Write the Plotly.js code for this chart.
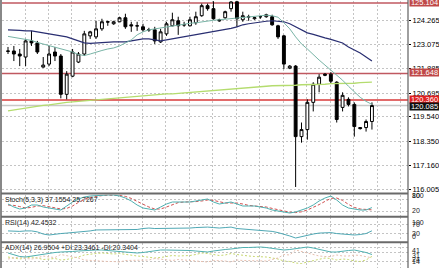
<!DOCTYPE html>
<html><head><meta charset="utf-8">
<script src="https://cdn.plot.ly/plotly-3.0.1.min.js"></script>
<style>html,body{margin:0;padding:0;background:#fff;overflow:hidden}#chart{width:439px;height:268px}</style>
</head><body><div id="chart"></div>
<script>
// ---------- data ----------
const open  = [122.754,122.754,122.606,122.458,123.246,123.148,121.966,122.113,122.704,122.507,
               120.635,121.522,122.212,122.606,123.493,123.443,123.837,124.182,124.084,124.182,
               124.379,124.034,123.985,123.936,123.788,123.788,123.197,123.591,123.985,124.231,
               124.034,123.985,124.133,124.478,124.970,124.823,124.281,124.379,124.823,125.160,
               124.281,124.429,124.330,124.430,124.429,124.429,123.985,123.493,121.916,122.015,
               118.567,118.911,120.241,121.128,121.621,121.621,121.227,119.995,120.389,120.143,
               119.010,119.010,119.306];
const high  = [122.951,123.000,122.852,123.345,123.739,123.246,122.458,123.000,122.951,122.606,
               121.769,122.852,122.704,123.739,123.739,124.231,124.330,124.231,124.231,124.429,
               124.576,124.182,124.182,124.084,123.887,123.936,123.837,124.182,124.626,124.429,
               124.182,124.429,124.675,125.069,125.069,125.190,124.330,124.724,125.190,125.215,
               124.675,124.527,124.429,124.478,124.576,124.527,124.034,123.542,122.064,122.064,
               119.256,120.389,121.227,121.621,121.670,121.719,121.276,120.734,120.488,120.241,
               119.030,119.404,120.241];
const low   = [122.606,122.261,122.015,122.015,123.000,122.606,121.940,122.015,122.261,120.438,
               120.389,121.473,122.163,122.507,123.345,123.345,123.739,123.985,124.034,124.160,
               123.837,123.690,123.739,123.690,123.690,123.098,123.148,123.493,123.960,123.542,
               123.936,123.960,124.034,124.429,124.724,124.281,124.182,124.330,124.675,123.936,
               124.182,124.231,124.281,124.330,124.379,123.985,123.345,121.867,121.867,116.104,
               118.271,118.419,119.798,120.734,121.522,121.177,119.256,119.798,120.044,118.567,
               118.911,118.813,118.911];
const close = [122.740,122.606,122.507,123.246,123.148,122.704,122.064,122.606,122.507,120.635,
               121.621,122.704,122.606,123.591,123.690,123.837,124.182,124.170,124.182,124.379,
               123.936,123.985,123.980,123.788,123.790,123.246,123.690,124.084,124.281,123.985,
               124.030,124.281,124.429,124.970,124.823,124.330,124.231,124.675,125.150,124.330,
               124.478,124.420,124.379,124.429,124.527,124.034,123.443,122.113,122.015,118.567,
               118.911,120.241,121.128,121.473,121.572,121.276,119.404,120.586,120.143,119.059,
               118.961,119.306,120.085];
const maSlow = [123.788,123.788,123.764,123.739,123.739,123.690,123.640,123.591,123.542,123.493,
                123.443,123.345,123.246,123.148,123.123,123.148,123.172,123.197,123.197,123.197,
                123.197,123.246,123.296,123.345,123.345,123.296,123.246,123.296,123.345,123.394,
                123.468,123.517,123.567,123.616,123.665,123.690,123.739,123.788,123.862,123.936,
                124.035,124.084,124.133,124.158,124.207,124.232,124.207,124.182,124.084,123.936,
                123.788,123.640,123.567,123.468,123.394,123.320,123.246,123.148,122.951,122.803,
                122.655,122.458,122.261];
const maFast = [123.468,123.419,123.370,123.320,123.271,123.172,123.099,123.000,122.951,122.852,
                122.803,122.705,122.581,122.532,122.606,122.705,122.778,122.852,122.902,123.000,
                123.148,123.296,123.542,123.690,123.788,123.838,123.887,123.936,123.985,124.035,
                124.059,124.108,124.133,124.182,124.232,124.256,124.281,124.305,124.330,124.379,
                124.404,124.429,124.453,124.478,124.503,124.478,124.404,124.133,123.838,123.443,
                123.099,122.852,122.557,122.310,122.064,121.818,121.572,121.325,121.030,120.783,
                120.488,120.291,120.143];
const maLong = [119.823,119.872,119.921,119.971,120.020,120.044,120.094,120.118,120.168,120.192,
                120.241,120.266,120.291,120.315,120.365,120.389,120.414,120.438,120.463,120.488,
                120.512,120.537,120.562,120.586,120.586,120.611,120.636,120.660,120.660,120.685,
                120.709,120.734,120.759,120.783,120.783,120.808,120.833,120.857,120.882,120.931,
                120.956,120.980,121.005,121.030,121.030,121.054,121.054,121.079,121.079,121.079,
                121.104,121.104,121.128,121.128,121.128,121.153,121.153,121.177,121.177,121.177,
                121.202,121.202,121.227];
const stochMain = [55,40,30,35,50,50,40,35,30,25, 45,65,80,90,95,97,100,100,100,95,
                   85,70,50,35,30,25,40,55,65,65, 65,65,70,75,80,65,55,60,65,55,
                   45,45,45,40,35,25,20,12,10,15, 25,35,50,70,85,95,75,50,35,30,
                   25,25,37.1554];
const stochSignal = [50,48,42,35,38,45,47,42,35,30, 33,45,63,78,88,94,97,99,100,98,
                     93,83,68,52,40,30,30,40,53,62, 65,65,67,70,75,73,67,60,60,60,
                     55,48,45,43,40,33,27,19,14,12, 16,25,37,52,68,83,85,73,53,38,
                     30,27,25.7267];
const rsi = [42,40,40,42,42,38,29,25,29,31, 33,35,38,38,42,46,46,46,46,46,
             46,46,48,52,54,52,52,52,54,54, 54,54,56,58,58,56,54,56,58,52,
             50,50,48,46,44,40,35,29,21,12.5, 19,25,29,33,35,35,31,29,27,25,
             27,31,42.4532];
const adx = [30,26,23,22,24,26,28,30,31,32, 32,33,34,35,36,36,36,35,34,33,
             32,31,30,31,33,35,36,36,36,36, 36,35,34,33,32,34,36,37,38,40,
             41,41,42,42,41,39,37,36,37,39, 41,42,40,37,34,32,32,34,35,36,
             34,31,26.9504];
const plusDI = [22,20,18,20,22,20,17,18,19,16, 17,20,22,26,28,29,30,29,28,29,
                27,25,24,23,22,20,21,23,25,24, 24,25,27,30,29,27,25,26,29,27,
                25,24,23,23,22,20,18,14,13,10, 9,12,15,18,20,19,16,18,17,14,
                13,16,23.3461];
const minusDI = [18,20,22,19,18,20,24,22,21,27, 25,22,20,16,15,14,13,13,13,12,
                 15,15,16,16,16,19,18,16,15,17, 16,15,14,12,12,15,15,14,12,16,
                 15,15,15,15,14,17,20,27,26,36, 33,30,27,24,23,23,26,24,24,26,
                 25,23,20.3404];
const priceTicks = [124.265,123.075,121.885,120.695,119.540,118.350,117.160,116.005];
const levelTop = 125.104, levelMid = 121.648, levelLow = 120.360, bidPrice = 120.085;
const stochLabels = [["100",195],["80",195],["20",210]];
const rsiLabels = [["100",222],["70",224],["30",233],["0",236.5]];
const adxLabels = [["41",250],["31",255],["24",259.5],["14",261.5]];

// ---------- geometry ----------
const W=439,H=268;
const fx=p=>p/W, fy=p=>1-p/H;
const C0=8.0, DX=5.87;
const PL=2, PR=408;
const xr=[(PL-C0)/DX,(PR-C0)/DX];
const SLOPE=20.45, ANCH_Y=189, ANCH_P=116.005;
const priceAt=y=>ANCH_P+(ANCH_Y-y)/SLOPE;
const idx=open.map((_,i)=>i);

const FONT='Liberation Sans, Arial, sans-serif';
const grid={showgrid:true,gridcolor:'#c4c4c4',griddash:'2px,2px',gridwidth:1};

const traces=[
 {type:'scatter',mode:'lines',x:idx,y:maLong,line:{color:'#b4dc6e',width:1.3},hoverinfo:'skip'},
 {type:'scatter',mode:'lines',x:idx,y:maSlow,line:{color:'#2a2f72',width:1.2},hoverinfo:'skip'},
 {type:'scatter',mode:'lines',x:idx,y:maFast,line:{color:'#78b4a6',width:1},hoverinfo:'skip'},
 {type:'candlestick',x:idx,open,high,low,close,whiskerwidth:0,hoverinfo:'skip',
  increasing:{line:{color:'#000',width:1},fillcolor:'#fff'},
  decreasing:{line:{color:'#000',width:1},fillcolor:'#000'}},
 {type:'scatter',mode:'lines',x:idx,y:stochSignal,yaxis:'y2',line:{color:'#d05050',width:1,dash:'3px,2px'},hoverinfo:'skip'},
 {type:'scatter',mode:'lines',x:idx,y:stochMain,yaxis:'y2',line:{color:'#4fb0b0',width:1},hoverinfo:'skip'},
 {type:'scatter',mode:'lines',x:idx,y:rsi,yaxis:'y3',line:{color:'#4fa8b4',width:1},hoverinfo:'skip'},
 {type:'scatter',mode:'lines',x:idx,y:plusDI,yaxis:'y4',line:{color:'#c8d870',width:1,dash:'2px,2px'},hoverinfo:'skip'},
 {type:'scatter',mode:'lines',x:idx,y:minusDI,yaxis:'y4',line:{color:'#e8c0b0',width:1,dash:'2px,2px'},hoverinfo:'skip'},
 {type:'scatter',mode:'lines',x:idx,y:adx,yaxis:'y4',line:{color:'#4fb0b0',width:1},hoverinfo:'skip'}
];

const hline=(y,color,w)=>({type:'line',xref:'x',yref:'y',x0:xr[0],x1:xr[1],y0:y,y1:y,layer:'between',line:{color,width:w}});
const pline=(x0,y0,x1,y1,color,w)=>({type:'line',xref:'paper',yref:'paper',x0:fx(x0),x1:fx(x1),y0:fy(y0),y1:fy(y1),line:{color,width:w}});
const shapes=[
 hline(levelTop,'#c05860',1.5),
 hline(levelMid,'#c05860',1.5),
 hline(levelLow,'#d83a3a',1.5),
 hline(bidPrice,'#c8c8c8',1.5),
 pline(1,0,1,268,'#606060',1.5),
 pline(PR,0,PR,268,'#606060',1.2),
 pline(1,193.5,PR,193.5,'#6a6a6a',2),
 pline(1,216.8,PR,216.8,'#6a6a6a',2),
 pline(1,242.2,PR,242.2,'#6a6a6a',2)
];

const box=(txt,y,bg)=>({xref:'paper',yref:'paper',x:fx(409),y:fy(y),xanchor:'left',yanchor:'middle',
  text:txt,showarrow:false,bgcolor:bg,borderpad:0,width:29,height:7,align:'center',
  font:{family:FONT,size:7.5,color:'#fff'}});
const lab=(txt,y,x)=>({xref:'paper',yref:'paper',x:fx(x),y:fy(y),xanchor:'left',yanchor:'middle',
  text:txt,showarrow:false,font:{family:FONT,size:7,color:'#222'}});
const annotations=[
 box('125.104',2,'#c04848'),
 box('121.648',73,'#c04848'),
 box('120.360',99.5,'#e02020'),
 box('120.085',106.5,'#101010'),
 lab('Stoch(5,3,3) 37.1554 25.7267',200,3),
 lab('RSI(14) 42.4532',223,3),
 lab('ADX(14) 26.9504 +DI:23.3461 -DI:20.3404',248,3),
 ...stochLabels.map(([t,y])=>lab(t,y,410)),
 ...rsiLabels.map(([t,y])=>lab(t,y,410)),
 ...adxLabels.map(([t,y])=>lab(t,y,410))
];

const layout={
 width:W,height:H,margin:{l:0,r:0,t:0,b:0},paper_bgcolor:'#fff',plot_bgcolor:'#fff',
 showlegend:false,dragmode:false,
 xaxis:{domain:[fx(PL),fx(PR)],range:xr,anchor:'y4',showticklabels:false,ticks:'',zeroline:false,
        tick0:(25-C0)/DX,dtick:4,...grid,rangeslider:{visible:false},fixedrange:true},
 yaxis:{domain:[fy(192.5),fy(0.5)],range:[priceAt(192.5),priceAt(0.5)],side:'right',
        tickvals:priceTicks,ticktext:priceTicks.map(v=>v.toFixed(3)),ticks:'outside',ticklen:2,tickcolor:'#000',
        ticklabelstandoff:0,tickfont:{family:FONT,size:7.5,color:'#000'},zeroline:false,...grid,fixedrange:true},
 yaxis2:{domain:[fy(216),fy(194.5)],range:[-5,102.5],anchor:'x',side:'right',tickvals:[20,80],
        showticklabels:false,ticks:'',zeroline:false,...grid,fixedrange:true},
 yaxis3:{domain:[fy(241),fy(217)],range:[0,100],anchor:'x',side:'right',tickvals:[30,70],
        showticklabels:false,ticks:'',zeroline:false,...grid,fixedrange:true},
 yaxis4:{domain:[fy(268),fy(243)],range:[0,50],anchor:'x',side:'right',tickvals:[14,31,41],
        showticklabels:false,ticks:'',zeroline:false,...grid,fixedrange:true},
 shapes,annotations
};
Plotly.newPlot('chart',traces,layout,{displayModeBar:false,staticPlot:true});
</script></body></html>
